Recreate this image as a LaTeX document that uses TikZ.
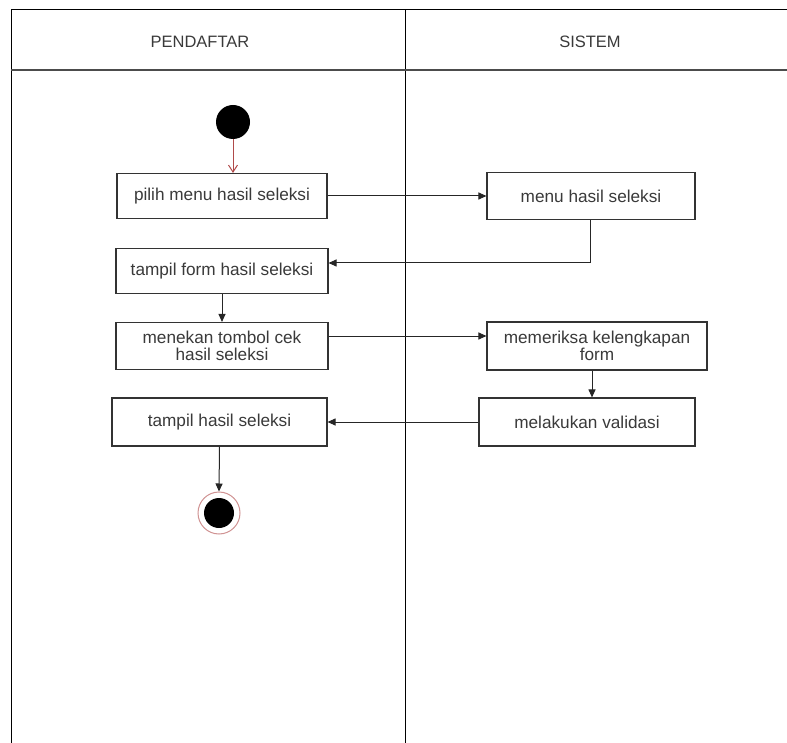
\documentclass[tikz,border=0pt]{standalone}
\usepackage{fontspec}
\setmainfont{Liberation Sans}
\usetikzlibrary{arrows.meta}
\definecolor{txt}{HTML}{3A3A3A}
\definecolor{edge}{HTML}{333333}
\definecolor{startred}{HTML}{B04A4A}
\begin{document}
\begin{tikzpicture}[x=1pt,y=-1pt,
  act/.style={draw=edge,line width=1.1pt,fill=white,inner sep=0pt,
    font=\fontsize{17.2}{21}\selectfont,text=txt,align=center},
  flow/.style={draw=black!85,line width=1pt,-{Triangle[length=8pt,width=7pt]}},
  lane/.style={draw=black,line width=1pt},
  hdr/.style={font=\fontsize{16.5}{18}\selectfont,text=txt}]
\useasboundingbox (0,0) rectangle (787,743);

% swimlane frame
\draw[lane] (11,743) -- (11,10) -- (787,10);
\draw[lane] (405,10) -- (405,743);
\draw[draw=black!70,line width=1.4pt] (11,70) -- (787,70);
\node[hdr] (hA) at (200,42) {PENDAFTAR};
\node[hdr] (hB) at (590,42) {SISTEM};

% start / end
\node[circle,fill=black,minimum size=34pt,inner sep=0pt] (start) at (233,122) {};
\node[circle,draw=startred!60,line width=1pt,fill=white,minimum size=42pt,inner sep=0pt] (endo) at (219,513) {};
\node[circle,fill=black,minimum size=30pt,inner sep=0pt] (endi) at (219,513) {};

% actions, pendaftar lane
\node[act,minimum width=210pt,minimum height=45pt] (a1) at (222,196) {pilih menu hasil seleksi};
\node[act,minimum width=212pt,minimum height=45pt] (a2) at (222,271) {tampil form hasil seleksi};
\node[act,minimum width=212pt,minimum height=47pt] (a3) at (222,346) {menekan tombol cek\\[-4pt]hasil seleksi};
\node[act,minimum width=215pt,minimum height=48pt] (a4) at (219.5,422) {tampil hasil seleksi};

% actions, sistem lane
\node[act,minimum width=208pt,minimum height=47pt] (b1) at (591,196) {menu hasil seleksi};
\node[act,minimum width=220pt,minimum height=48pt] (b2) at (597,346) {memeriksa kelengkapan\\[-4pt]form};
\node[act,minimum width=216pt,minimum height=48pt] (b3) at (587,422) {melakukan validasi};

% flows
\draw[draw=startred,line width=1pt,-{Straight Barb[length=7pt,width=9pt]}] (start.south) -- (a1.north -| start);
\draw[flow] (a1.east) -- (b1.west);
\draw[flow] (b1.south -| 590,0) |- (a2.east |- 0,263);
\draw[flow] (a2.south) -- (a3.north);
\draw[flow] (a3.east |- 0,336) -- (b2.west |- 0,336);
\draw[flow] (b2.south -| 592,0) -- (b3.north -| 592,0);
\draw[flow] (b3.west) -- (a4.east);
\draw[flow] (a4.south) -- (endo.north);
\end{tikzpicture}
\end{document}
